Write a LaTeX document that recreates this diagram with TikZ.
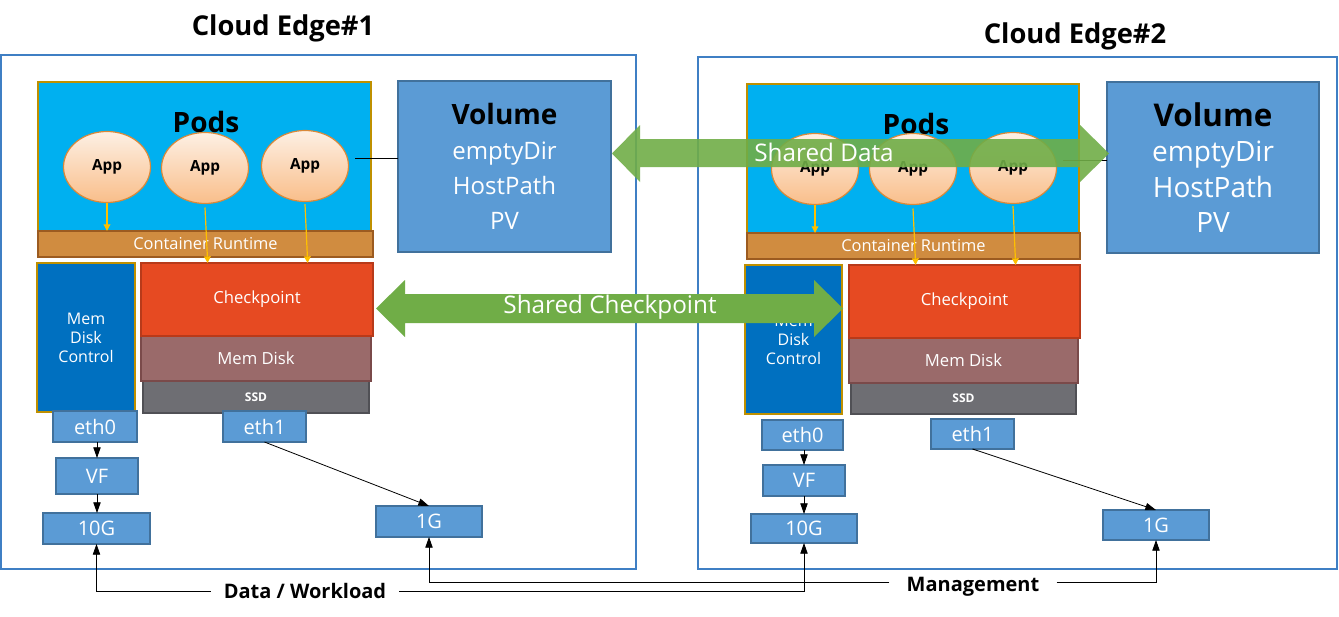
\documentclass[tikz,border=0pt]{standalone}
\usepackage{fontspec}
\setmainfont{Open Sans}
\usetikzlibrary{arrows.meta,shapes.geometric}
\definecolor{edgeblue}{HTML}{3F7FC4}
\definecolor{podcyan}{HTML}{00B0F0}
\definecolor{gold}{HTML}{BF9000}
\definecolor{crtfill}{HTML}{D08C40}
\definecolor{crtdraw}{HTML}{9C5B20}
\definecolor{volfill}{HTML}{5B9BD5}
\definecolor{voldraw}{HTML}{41719C}
\definecolor{mdcfill}{HTML}{0070C0}
\definecolor{ckfill}{HTML}{E64A22}
\definecolor{ckdraw}{HTML}{B83A1A}
\definecolor{mdfill}{HTML}{9A6A6A}
\definecolor{mddraw}{HTML}{7A4A4A}
\definecolor{ssdfill}{HTML}{6E6E73}
\definecolor{ssddraw}{HTML}{505055}
\definecolor{apptop}{HTML}{FDF0E4}
\definecolor{appbot}{HTML}{F9BE8A}
\definecolor{appdraw}{HTML}{D9893A}
\definecolor{yarrowc}{HTML}{FFC000}
\definecolor{sgreen}{HTML}{70AD47}
\newcommand\bx[7]{\node[#6, anchor=north west, minimum width={(#4-#2)*0.75pt}, minimum height={(#5-#3)*0.75pt}] (#1) at (#2,#3) {#7};}
\begin{document}
\begin{tikzpicture}[x=0.75pt,y=-0.75pt,
  every node/.style={inner sep=0pt,outer sep=0pt},
  outerbox/.style={draw=edgeblue,line width=1.5pt},
  podbox/.style={fill=podcyan,draw=gold,line width=1.5pt},
  crtbox/.style={fill=crtfill,draw=crtdraw,line width=1.2pt,text=white,font=\fontsize{12.3}{14}\selectfont},
  volbox/.style={fill=volfill,draw=voldraw,line width=1.2pt,text=white,align=center},
  mdcbox/.style={fill=mdcfill,draw=gold,line width=1.5pt,text=white,align=center,font=\fontsize{12}{14.25}\selectfont},
  ckbox/.style={fill=ckfill,draw=ckdraw,line width=1.2pt,text=white,font=\fontsize{12.5}{14}\selectfont},
  mdbox/.style={fill=mdfill,draw=mddraw,line width=1.2pt,text=white,font=\fontsize{12.5}{14}\selectfont},
  ssdbox/.style={fill=ssdfill,draw=ssddraw,line width=1.2pt,text=white,font=\bfseries\fontsize{9}{10}\selectfont},
  netbox/.style={fill=volfill,draw=voldraw,line width=1.2pt,text=white,font=\fontsize{15}{17}\selectfont},
  app/.style={ellipse,minimum width=87*0.75pt,minimum height=71*0.75pt,top color=apptop,bottom color=appbot,draw=appdraw,line width=0.9pt,font=\bfseries\fontsize{11.5}{13}\selectfont},
  title/.style={font=\bfseries\fontsize{20.5}{23}\selectfont},
  podlabel/.style={font=\bfseries\fontsize{21}{24}\selectfont},
  yarr/.style={draw=yarrowc,line width=0.9pt,-{Triangle[width=5pt,length=5pt]}},
  barr/.style={draw=black,line width=0.6pt,-{Triangle[width=5.5pt,length=8pt]}},
  bline/.style={draw=black,line width=0.6pt},
  botlabel/.style={font=\bfseries\fontsize{15}{17}\selectfont,fill=white},
  greenarrow/.style={fill=sgreen},
  greentext/.style={text=white,font=\fontsize{18.2}{21}\selectfont}
]
\useasboundingbox[fill=white] (0,0) rectangle (1339,617);

% titles
\node[title] (t1) at (283,28) {Cloud Edge\#1};
\node[title] (t2) at (1075,36) {Cloud Edge\#2};

% outer boxes
\bx{edge1}{1}{55}{636}{569}{outerbox}{}
\bx{edge2}{698}{57}{1337}{569}{outerbox}{}

% ---------- Edge 1 ----------
\bx{pods1}{38}{82}{371}{231}{podbox}{}
\node[podlabel] (pl1) at (206,122) {Pods};
\node[app] (app11) at (107,167) {App};
\node[app] (app12) at (205,168) {App};
\node[app] (app13) at (305,166) {App};
\bx{vol1}{398}{81}{611}{252}{volbox,font=\fontsize{18}{26.25}\selectfont}{{\color{black}\bfseries\fontsize{21}{26.25}\selectfont Volume}\\emptyDir\\HostPath\\PV}
\draw[bline] ([yshift=6pt]vol1.west) -- ([yshift=6pt,xshift=5pt]vol1.west -| app13.east);
\bx{crt1}{38}{231}{373}{257}{crtbox}{Container Runtime}
\bx{mdc1}{37}{263}{135}{412}{mdcbox}{Mem\\Disk\\Control}
\bx{ssd1}{143}{381}{369}{413}{ssdbox}{SSD}
\bx{md1}{141}{336}{371}{381}{mdbox}{Mem Disk}
\bx{ck1}{141}{263}{373}{336}{ckbox}{Checkpoint}
\bx{eth01}{53}{411}{137}{442}{netbox}{eth0}
\bx{eth11}{223}{411}{306}{442}{netbox}{eth1}
\bx{vf1}{56}{458}{138}{494}{netbox}{VF}
\bx{tg1}{43}{513}{150}{544}{netbox}{10G}
\bx{og1}{376}{506}{482}{537}{netbox}{1G}
\draw[yarr] (app11.south) -- (app11.south |- crt1.north);
\draw[yarr] ([yshift=-3pt]app12.south) -- ([xshift=2pt]app12.south |- ck1.north);
\draw[yarr] ([yshift=-2pt]app13.south) -- ([xshift=2pt]app13.south |- ck1.north);
\draw[barr] (eth01.south -| vf1.north) -- (vf1.north);
\draw[barr] (vf1.south) -- (vf1.south |- tg1.north);
\draw[barr] (eth11.south) -- (og1.north);

% ---------- Edge 2 ----------
\bx{pods2}{747}{84}{1079}{233}{podbox}{}
\node[podlabel] (pl2) at (916,124) {Pods};
\node[app] (app21) at (815,169) {App};
\node[app] (app22) at (913,169) {App};
\node[app] (app23) at (1013,168) {App};
\bx{vol2}{1107}{82}{1319}{253}{volbox,font=\fontsize{21}{26.5}\selectfont}{{\color{black}\bfseries\fontsize{23.5}{26.5}\selectfont Volume}\\emptyDir\\HostPath\\PV}
\draw[bline] ([yshift=5pt]vol2.west) -- ([yshift=5pt,xshift=5pt]vol2.west -| app23.east);
\bx{crt2}{747}{233}{1080}{259}{crtbox}{Container Runtime}
\bx{mdc2}{745}{265}{842}{414}{mdcbox}{Mem\\Disk\\Control}
\bx{ssd2}{851}{383}{1076}{414}{ssdbox}{SSD}
\bx{md2}{849}{338}{1078}{383}{mdbox}{Mem Disk}
\bx{ck2}{849}{265}{1080}{338}{ckbox}{Checkpoint}
\bx{eth02}{762}{420}{843}{450}{netbox}{eth0}
\bx{eth12}{931}{419}{1014}{449}{netbox}{eth1}
\bx{vf2}{763}{465}{845}{496}{netbox}{VF}
\bx{tg2}{751}{514}{857}{543}{netbox}{10G}
\bx{og2}{1103}{510}{1209}{540}{netbox}{1G}
\draw[yarr] (app21.south) -- (app21.south |- crt2.north);
\draw[yarr] ([yshift=-3pt]app22.south) -- ([xshift=2pt]app22.south |- ck2.north);
\draw[yarr] ([yshift=-2pt]app23.south) -- ([xshift=2pt]app23.south |- ck2.north);
\draw[barr] (eth02.south -| vf2.north) -- (vf2.north);
\draw[barr] (vf2.south) -- (vf2.south |- tg2.north);
\draw[barr] (eth12.south) -- (og2.north);

% ---------- bottom links ----------
\node[botlabel,inner xsep=10pt,inner ysep=2pt] (dw) at (305,591) {Data / Workload};
\node[botlabel,inner xsep=13pt,inner ysep=2pt] (mg) at (973,587) {Management};
\draw[barr] ([yshift=3.75pt]mg.west) -| (og1.south);
\draw[barr] ([yshift=3.75pt]mg.east) -| (og2.south);
\draw[barr] (dw.west) -| (tg1.south);
\draw[barr] (dw.east) -| (tg2.south);
\node[botlabel,inner xsep=10pt,inner ysep=2pt] at (dw) {Data / Workload};

% ---------- shared checkpoint arrow ----------
\fill[greenarrow] (376,308.5) -- (405,280) -- (405,294) -- (814,294) -- (814,280) -- (843,308.5)
  -- (814,337) -- (814,323) -- (405,323) -- (405,337) -- cycle;
\node[greentext] (sc) at (610,307) {Shared Checkpoint};

% ---------- shared data arrow (translucent) ----------
\fill[greenarrow,fill opacity=0.9] (612,153.5) -- (640,125) -- (640,139) -- (1080,139) -- (1080,125) -- (1109,153.5)
  -- (1080,182) -- (1080,167) -- (640,167) -- (640,182) -- cycle;
\node[greentext] (sd) at (824,152) {Shared Data};
\end{tikzpicture}
\end{document}
